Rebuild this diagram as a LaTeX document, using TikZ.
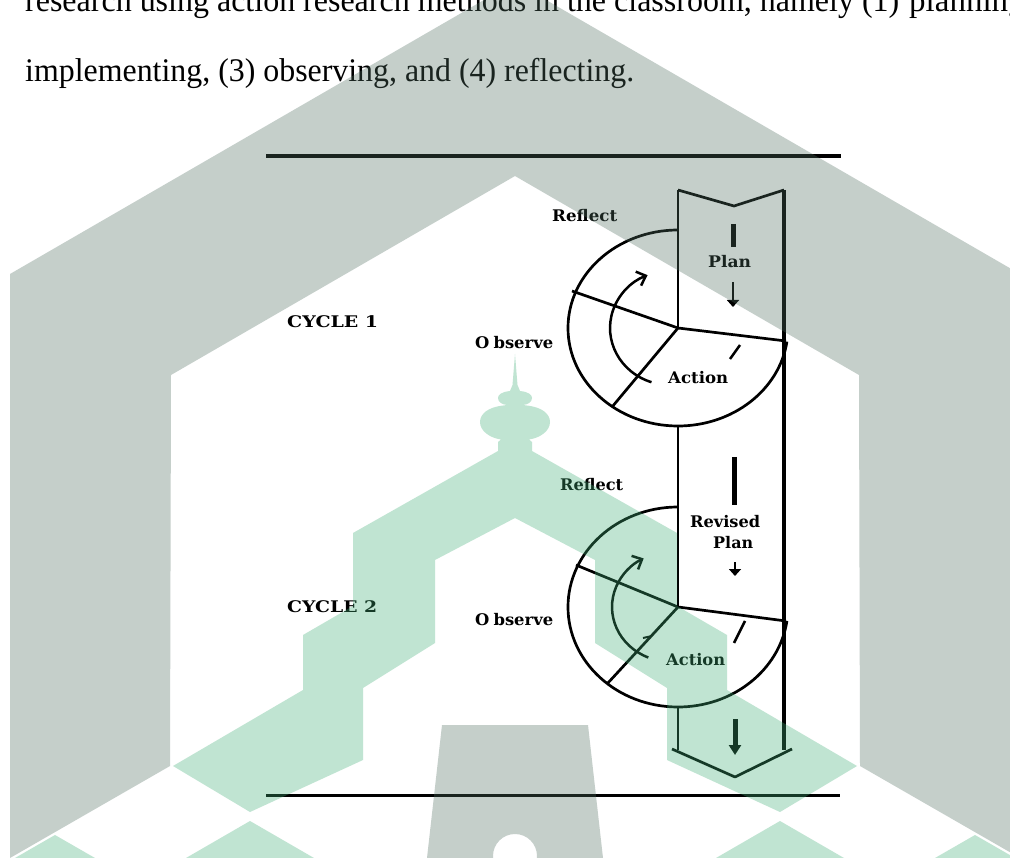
\documentclass[tikz,border=0pt]{standalone}
\usepackage{fontspec}
\setmainfont{Liberation Serif}
\newfontfamily\lblfont{DejaVu Serif}
\usetikzlibrary{arrows.meta}
\newcommand{\fitw}[2]{\resizebox{#1}{\height}{#2}}
\definecolor{wmgray}{RGB}{79,110,97}
\definecolor{wmgreen}{RGB}{64,176,119}
\begin{document}
\begin{tikzpicture}[x=1pt,y=1pt,
 ln/.style={line width=2.7pt,line join=round},
 lbl/.style={inner sep=0pt,anchor=base west,font=\lblfont\bfseries\fontsize{16}{18}\selectfont},
 body/.style={inner sep=0pt,anchor=base west,font=\fontsize{33}{36}\selectfont},
 hrule/.style={line width=#1},
 bar/.style={line width=5pt},
 tri/.style={-{Triangle[length=#1,width=12pt]}},
 barb/.style={-{Straight Barb[length=8pt,width=15pt]}},
 ]
\clip (0,0) rectangle (1010,-858);
\fill[white] (0,0) rectangle (1010,-858);

% ---------- page text ----------
\node[body] (line1a) at (25,-12) {\fitw{874pt}{research using action research methods in the classroom, namely (1)}};
\node[body] (line1b) at (909,-12) {planning};
\node[body] (line2) at (25,-82) {\fitw{609pt}{implementing, (3) observing, and (4) reflecting.}};

% ---------- rules ----------
\coordinate (r1a) at (266,-156); \coordinate (r1b) at (841,-156);
\coordinate (r2a) at (266,-795.5); \coordinate (r2b) at (840,-795.5);
\draw[hrule=4.5pt] (r1a) -- (r1b);
\draw[hrule=2.5pt] (r2a) -- (r2b);

% ---------- column ----------
\coordinate (tl) at (678,-190); \coordinate (notch) at (734,-206); \coordinate (tr) at (784,-190);
\coordinate (bl) at (672,-749); \coordinate (bpt) at (735,-777); \coordinate (bro) at (792,-749);
\coordinate (brv) at (784,-750); \coordinate (blv) at (678,-750);
\coordinate (C1) at (678,-328); \coordinate (C2) at (678,-607);
\coordinate (C1b) at (678,-426); \coordinate (C2b) at (678,-707);
\draw[ln] (tl) -- (notch) -- (tr);
\draw[ln,line width=3.3pt] (tr) -- (brv);
\draw[ln] (tl) -- (C1);
\draw[ln] (C1b) -- (C2);
\draw[ln] (C2b) -- (blv);
\draw[ln] (bl) -- (bpt) -- (bro);

% ---------- cycle 1 ----------
\coordinate (C1top) at (678,-230);
\draw[ln] (C1top) arc[start angle=90,end angle=352,x radius=110,y radius=98];
\coordinate (c1ul) at (572,-291); \coordinate (c1r) at (786,-341); \coordinate (c1ll) at (612,-407);
\draw[ln] (c1ul) -- (C1) -- (c1r);
\draw[ln] (C1) -- (c1ll);
\coordinate (a1s) at (651.5,-382.2);
\draw[line width=2.5pt,barb] (a1s) arc[start angle=252,end angle=112,x radius=60,y radius=57];
\coordinate (d1a) at (730,-359); \coordinate (d1b) at (740,-345);
\draw[line width=2.5pt] (d1a) -- (d1b);
\coordinate (p1a) at (733,-224); \coordinate (p1b) at (733,-247);
\draw[bar] (p1a) -- (p1b);
\coordinate (p1c) at (733,-282); \coordinate (p1d) at (733,-307);
\draw[line width=2.5pt,tri=7pt] (p1c) -- (p1d);

% ---------- cycle 2 ----------
\coordinate (C2top) at (678,-507);
\draw[ln] (C2top) arc[start angle=90,end angle=352,x radius=110,y radius=100];
\coordinate (c2ul) at (576,-565); \coordinate (c2r) at (786,-621); \coordinate (c2ll) at (607,-684);
\draw[ln] (c2ul) -- (C2) -- (c2r);
\draw[ln] (C2) -- (c2ll);
\coordinate (a2s) at (648.3,-657.5);
\draw[line width=2.5pt,barb] (a2s) arc[start angle=248,end angle=117,x radius=58,y radius=54.5];
\coordinate (d2a) at (734,-643); \coordinate (d2b) at (745,-621);
\draw[line width=2.5pt] (d2a) -- (d2b);
\coordinate (t2a) at (643,-638); \coordinate (t2b) at (652,-636);
\draw[line width=2pt] (t2a) -- (t2b);
\coordinate (p2a) at (734,-457); \coordinate (p2b) at (734,-505);
\draw[bar] (p2a) -- (p2b);
\coordinate (p2c) at (735,-562); \coordinate (p2d) at (735,-576);
\draw[line width=2.5pt,tri=7pt] (p2c) -- (p2d);
\coordinate (p3a) at (735,-719); \coordinate (p3b) at (735,-755);
\draw[bar,tri=10pt] (p3a) -- (p3b);

% ---------- labels ----------
\node[lbl] (reflect1) at (552,-222) {\fitw{65pt}{Reflect}};
\node[lbl] (plan1) at (708,-268) {\fitw{43pt}{Plan}};
\node[lbl] (action1) at (668,-384) {\fitw{60pt}{Action}};
\node[lbl] (observe1) at (475,-349) {\fitw{78pt}{O\kern4pt bserve}};
\node[lbl] (cycle1) at (287,-328) {\fitw{91pt}{CYCLE 1}};
\node[lbl] (reflect2) at (560,-491) {\fitw{63pt}{Reflect}};
\node[lbl] (revised) at (690,-528) {\fitw{70pt}{Revised}};
\node[lbl] (plan2) at (713,-548) {\fitw{40pt}{Plan}};
\node[lbl] (action2) at (666,-665) {\fitw{59pt}{Action}};
\node[lbl] (observe2) at (475,-625) {\fitw{78pt}{O\kern4pt bserve}};
\node[lbl] (cycle2) at (287,-612) {\fitw{90pt}{CYCLE 2}};

% ---------- watermark ----------
\begin{scope}[yscale=-1]
\fill[wmgray,fill opacity=0.33,even odd rule]
 (10,858) -- (10,274) -- (515,-18) -- (1020,274) -- (1020,858) -- (860,766) -- (859,375)
 -- (515,176) -- (171,375) -- (170,766) -- cycle
 (442,725) -- (588,725) -- (603,858) -- (427,858) -- cycle
 (515,856) circle[radius=22];
\fill[wmgreen,fill opacity=0.33]
 (515,354) -- (512.5,385) -- (510,391)
 .. controls (501,392) and (498,395) .. (498,398)
 .. controls (498,402) and (502,404.5) .. (507,405)
 -- (503.5,405.5)
 .. controls (488,407) and (480,414) .. (480,422)
 .. controls (480,431) and (490,438) .. (501,439.5)
 -- (498,442) -- (498,451)
 -- (353,533) -- (353,606) -- (303,635) -- (303,690) -- (173,766) -- (250,812)
 -- (363,760) -- (363,688) -- (435,643) -- (435,560) -- (515,518)
 -- (595,560) -- (595,643) -- (667,688) -- (667,760) -- (780,812) -- (857,766)
 -- (727,690) -- (727,635) -- (677,606) -- (677,533) -- (532,451) -- (532,442) -- (529,439.5)
 .. controls (540,438) and (550,431) .. (550,422)
 .. controls (550,414) and (542,407) .. (526.5,405.5)
 -- (523,405)
 .. controls (528,404.5) and (532,402) .. (532,398)
 .. controls (532,395) and (529,392) .. (520,391)
 -- (517.5,385) -- cycle
 (250,821) -- (186,858) -- (314,858) -- cycle
 (780,821) -- (716,858) -- (844,858) -- cycle
 (55,835) -- (15,858) -- (95,858) -- cycle
 (975,835) -- (935,858) -- (1015,858) -- cycle;
\end{scope}
\end{tikzpicture}
\end{document}
